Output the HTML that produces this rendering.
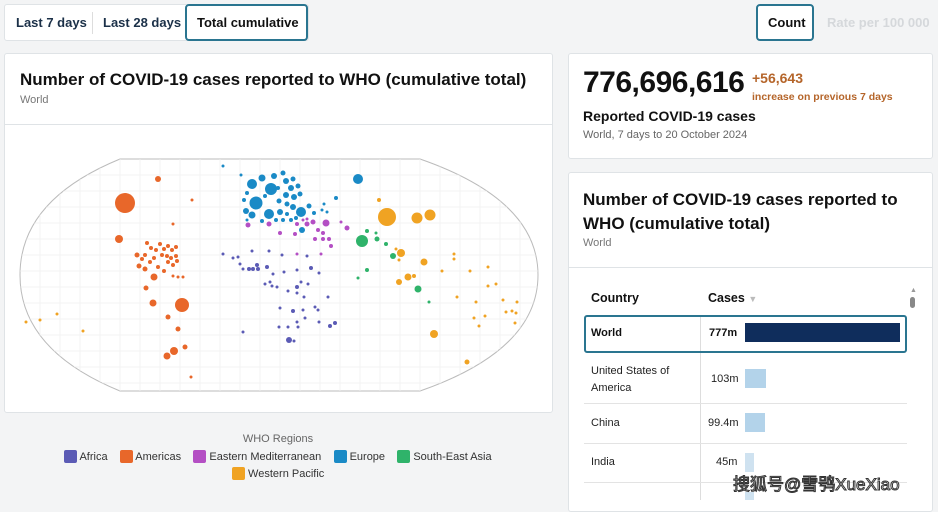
<!DOCTYPE html>
<html><head><meta charset="utf-8"><style>
*{box-sizing:border-box;margin:0;padding:0}
body{width:938px;height:500px;overflow:hidden;background:#f3f4f5;font-family:"Liberation Sans","Noto Sans CJK SC",sans-serif;position:relative;color:#111}
.abs{position:absolute}
.card{position:absolute;background:#fff;border:1px solid #dfe3e6;border-radius:3px}
.btn{position:absolute;font-size:13px;font-weight:bold;color:#1b3048}
</style></head><body>
<div class="card" style="left:4px;top:4px;width:305px;height:37px"></div>
<div class="btn" style="left:16px;top:15px">Last 7 days</div>
<div class="abs" style="left:92px;top:12px;width:1px;height:22px;background:#ddd"></div>
<div class="btn" style="left:103px;top:15px">Last 28 days</div>
<div class="abs" style="left:185px;top:4px;width:123px;height:37px;border:2px solid #2a7590;border-radius:4px;background:#fff"></div>
<div class="btn" style="left:197px;top:15px;color:#111">Total cumulative</div>
<div class="abs" style="left:756px;top:4px;width:58px;height:37px;border:2px solid #2a7590;border-radius:4px;background:#fff"></div>
<div class="btn" style="left:768px;top:15px;color:#111">Count</div>
<div class="btn" style="left:827px;top:15px;color:#d5d8db">Rate per 100 000</div>

<div class="card" style="left:4px;top:53px;width:549px;height:360px"></div>
<div class="abs" style="left:20px;top:70px;font-size:17px;font-weight:bold;white-space:nowrap">Number of COVID-19 cases reported to WHO (cumulative total)</div>
<div class="abs" style="left:20px;top:94px;font-size:11px;color:#777">World</div>
<div class="abs" style="left:5px;top:124px;width:547px;height:1px;background:#dfe3e6"></div>

<svg class="abs" style="left:0;top:0" width="560" height="420">
<defs><clipPath id="c"><path d="M120,159 L420,159 Q538,200 538,275 Q538,350 420,391 L120,391 Q20,350 20,275 Q20,200 120,159Z"/></clipPath></defs>
<path d="M120,159 L420,159 Q538,200 538,275 Q538,350 420,391 L120,391 Q20,350 20,275 Q20,200 120,159Z" fill="#fff" stroke="#bbb"/>
<g clip-path="url(#c)" stroke="#f0f0f0" stroke-width="0.8">
<path d="M20,175H540M20,191H540M20,207H540M20,223H540M20,239H540M20,255H540M20,271H540M20,287H540M20,303H540M20,319H540M20,335H540M20,351H540M20,367H540M20,383H540"/>
<path d="M40,150V400M60,150V400M80,150V400M100,150V400M120,150V400M140,150V400M160,150V400M180,150V400M200,150V400M220,150V400M240,150V400M260,150V400M280,150V400M300,150V400M320,150V400M340,150V400M360,150V400M380,150V400M400,150V400M420,150V400M440,150V400M460,150V400M480,150V400M500,150V400M520,150V400"/>
</g>
<g fill="#e8672a">
<circle cx="125" cy="203" r="10"/><circle cx="158" cy="179" r="3"/><circle cx="192" cy="200" r="1.5"/><circle cx="173" cy="224" r="1.5"/><circle cx="119" cy="239" r="4"/>
<circle cx="147" cy="243" r="2"/><circle cx="151" cy="248" r="2"/><circle cx="156" cy="250" r="2"/><circle cx="160" cy="244" r="2"/><circle cx="164" cy="249" r="2"/><circle cx="168" cy="246" r="2"/><circle cx="172" cy="250" r="2"/><circle cx="176" cy="247" r="2"/><circle cx="162" cy="255" r="2"/><circle cx="167" cy="256" r="2"/><circle cx="171" cy="258" r="2"/><circle cx="176" cy="256" r="2"/><circle cx="168" cy="262" r="2"/><circle cx="173" cy="265" r="2"/><circle cx="177" cy="261" r="2"/><circle cx="154" cy="258" r="2"/><circle cx="145" cy="255" r="2"/><circle cx="150" cy="262" r="2"/><circle cx="137" cy="255" r="2.5"/><circle cx="142" cy="259" r="2"/><circle cx="139" cy="266" r="2.5"/><circle cx="145" cy="269" r="2.5"/><circle cx="164" cy="271" r="2"/><circle cx="158" cy="267" r="2"/>
<circle cx="154" cy="277" r="3.5"/><circle cx="146" cy="288" r="2.5"/><circle cx="153" cy="303" r="3.5"/><circle cx="182" cy="305" r="7"/><circle cx="168" cy="317" r="2.5"/><circle cx="178" cy="329" r="2.5"/><circle cx="174" cy="351" r="4"/><circle cx="167" cy="356" r="3.5"/><circle cx="185" cy="347" r="2.5"/><circle cx="191" cy="377" r="1.5"/><circle cx="173" cy="276" r="1.5"/><circle cx="178" cy="277" r="1.5"/><circle cx="183" cy="277" r="1.5"/>
</g>
<g fill="#1a8ac6">
<circle cx="256" cy="203" r="6.5"/><circle cx="271" cy="189" r="6"/><circle cx="252" cy="184" r="5"/><circle cx="269" cy="214" r="5"/><circle cx="301" cy="212" r="5"/><circle cx="358" cy="179" r="5"/><circle cx="302" cy="230" r="3"/><circle cx="223" cy="166" r="1.5"/><circle cx="241" cy="175" r="1.5"/><circle cx="336" cy="198" r="2"/>
<circle cx="246" cy="211" r="3"/><circle cx="252" cy="215" r="3.5"/><circle cx="262" cy="178" r="3.5"/><circle cx="274" cy="176" r="3"/><circle cx="283" cy="173" r="2.5"/><circle cx="286" cy="181" r="3"/><circle cx="293" cy="179" r="2.5"/><circle cx="291" cy="188" r="3"/><circle cx="298" cy="186" r="2.5"/><circle cx="286" cy="195" r="3"/><circle cx="294" cy="197" r="3"/><circle cx="300" cy="194" r="2.5"/><circle cx="279" cy="201" r="2.5"/><circle cx="287" cy="204" r="2.5"/><circle cx="293" cy="207" r="3"/><circle cx="280" cy="212" r="3"/><circle cx="287" cy="214" r="2"/><circle cx="283" cy="220" r="2"/><circle cx="291" cy="220" r="2"/><circle cx="296" cy="218" r="2"/><circle cx="247" cy="193" r="2"/><circle cx="244" cy="200" r="2"/><circle cx="265" cy="196" r="2"/><circle cx="278" cy="188" r="2"/><circle cx="276" cy="220" r="2"/><circle cx="262" cy="221" r="2"/><circle cx="309" cy="206" r="2.5"/><circle cx="314" cy="213" r="2"/><circle cx="322" cy="210" r="1.5"/><circle cx="324" cy="204" r="1.5"/><circle cx="327" cy="212" r="1.5"/><circle cx="247" cy="220" r="1.5"/>
</g>
<g fill="#b44fc4">
<circle cx="248" cy="225" r="2.5"/><circle cx="269" cy="224" r="2.5"/><circle cx="280" cy="233" r="2"/><circle cx="295" cy="234" r="2"/><circle cx="297" cy="224" r="2"/><circle cx="307" cy="224" r="2.5"/><circle cx="313" cy="222" r="2.5"/><circle cx="326" cy="223" r="3.5"/><circle cx="347" cy="228" r="2.5"/><circle cx="341" cy="222" r="1.5"/><circle cx="318" cy="230" r="2"/><circle cx="323" cy="233" r="2"/><circle cx="315" cy="239" r="2"/><circle cx="323" cy="239" r="2"/><circle cx="329" cy="239" r="2"/><circle cx="331" cy="246" r="2"/><circle cx="303" cy="220" r="1.5"/><circle cx="307" cy="219" r="1.5"/><circle cx="297" cy="254" r="1.5"/><circle cx="321" cy="254" r="1.5"/>
</g>
<g fill="#5b5bb5">
<circle cx="223" cy="254" r="1.5"/><circle cx="233" cy="258" r="1.5"/><circle cx="238" cy="257" r="1.5"/><circle cx="240" cy="264" r="1.5"/><circle cx="243" cy="269" r="1.5"/><circle cx="249" cy="269" r="2"/><circle cx="253" cy="269" r="2"/><circle cx="258" cy="269" r="2"/><circle cx="257" cy="265" r="2"/><circle cx="267" cy="267" r="2"/><circle cx="252" cy="251" r="1.5"/><circle cx="269" cy="251" r="1.5"/><circle cx="282" cy="255" r="1.5"/><circle cx="307" cy="256" r="1.5"/><circle cx="311" cy="268" r="2"/><circle cx="319" cy="273" r="1.5"/><circle cx="297" cy="270" r="1.5"/><circle cx="284" cy="272" r="1.5"/><circle cx="273" cy="274" r="1.5"/><circle cx="265" cy="284" r="1.5"/><circle cx="270" cy="282" r="1.5"/><circle cx="272" cy="286" r="1.5"/><circle cx="277" cy="287" r="1.5"/><circle cx="288" cy="291" r="1.5"/><circle cx="297" cy="287" r="2"/><circle cx="297" cy="293" r="1.5"/><circle cx="301" cy="282" r="1.5"/><circle cx="308" cy="284" r="1.5"/><circle cx="304" cy="297" r="1.5"/><circle cx="328" cy="297" r="1.5"/><circle cx="280" cy="308" r="1.5"/><circle cx="293" cy="311" r="2"/><circle cx="303" cy="310" r="1.5"/><circle cx="305" cy="318" r="1.5"/><circle cx="297" cy="322" r="1.5"/><circle cx="315" cy="307" r="1.5"/><circle cx="318" cy="310" r="1.5"/><circle cx="319" cy="322" r="1.5"/><circle cx="330" cy="326" r="2"/><circle cx="335" cy="323" r="2"/><circle cx="279" cy="327" r="1.5"/><circle cx="288" cy="327" r="1.5"/><circle cx="298" cy="327" r="1.5"/><circle cx="289" cy="340" r="3"/><circle cx="294" cy="341" r="1.5"/><circle cx="243" cy="332" r="1.5"/>
</g>
<g fill="#2fb36a">
<circle cx="362" cy="241" r="6"/><circle cx="367" cy="231" r="2"/><circle cx="376" cy="233" r="1.5"/><circle cx="377" cy="239" r="2.5"/><circle cx="386" cy="244" r="2"/><circle cx="393" cy="256" r="3"/><circle cx="367" cy="270" r="2"/><circle cx="358" cy="278" r="1.5"/><circle cx="418" cy="289" r="3.5"/><circle cx="429" cy="302" r="1.5"/>
</g>
<g fill="#f0a323">
<circle cx="387" cy="217" r="9"/><circle cx="417" cy="218" r="5.5"/><circle cx="430" cy="215" r="5.5"/><circle cx="379" cy="200" r="2"/><circle cx="401" cy="253" r="4"/><circle cx="396" cy="249" r="1.5"/><circle cx="399" cy="260" r="1.5"/><circle cx="424" cy="262" r="3.5"/><circle cx="408" cy="277" r="3.5"/><circle cx="399" cy="282" r="3"/><circle cx="414" cy="276" r="2"/><circle cx="434" cy="334" r="4"/><circle cx="467" cy="362" r="2.5"/>
<circle cx="454" cy="254" r="1.5"/><circle cx="454" cy="259" r="1.5"/><circle cx="442" cy="271" r="1.5"/><circle cx="470" cy="271" r="1.5"/><circle cx="488" cy="267" r="1.5"/><circle cx="488" cy="286" r="1.5"/><circle cx="496" cy="284" r="1.5"/><circle cx="457" cy="297" r="1.5"/><circle cx="476" cy="302" r="1.5"/><circle cx="503" cy="300" r="1.5"/><circle cx="485" cy="316" r="1.5"/><circle cx="474" cy="318" r="1.5"/><circle cx="479" cy="326" r="1.5"/><circle cx="506" cy="312" r="1.5"/><circle cx="512" cy="311" r="1.5"/><circle cx="516" cy="313" r="1.5"/><circle cx="515" cy="323" r="1.5"/><circle cx="517" cy="302" r="1.5"/>
<circle cx="26" cy="322" r="1.5"/><circle cx="40" cy="320" r="1.5"/><circle cx="57" cy="314" r="1.5"/><circle cx="83" cy="331" r="1.5"/>
</g>
</svg>

<div class="abs" style="left:0;top:433px;width:556px;text-align:center;font-size:11px;color:#666">WHO Regions</div>
<div class="abs" style="left:64px;top:450px;font-size:11px;color:#333;white-space:nowrap;line-height:14px">
<span style="display:inline-block;width:13px;height:13px;background:#5b5bb5;border-radius:2px;vertical-align:-3px"></span> Africa&nbsp;&nbsp;&nbsp;
<span style="display:inline-block;width:13px;height:13px;background:#e8672a;border-radius:2px;vertical-align:-3px"></span> Americas&nbsp;&nbsp;&nbsp;
<span style="display:inline-block;width:13px;height:13px;background:#b44fc4;border-radius:2px;vertical-align:-3px"></span> Eastern Mediterranean&nbsp;&nbsp;&nbsp;
<span style="display:inline-block;width:13px;height:13px;background:#1a8ac6;border-radius:2px;vertical-align:-3px"></span> Europe&nbsp;&nbsp;&nbsp;
<span style="display:inline-block;width:13px;height:13px;background:#2fb36a;border-radius:2px;vertical-align:-3px"></span> South-East Asia</div>
<div class="abs" style="left:232px;top:467px;font-size:11px;color:#333;line-height:14px"><span style="display:inline-block;width:13px;height:13px;background:#f0a323;border-radius:2px;vertical-align:-3px"></span> Western Pacific</div>

<div class="card" style="left:568px;top:53px;width:365px;height:106px"></div>
<div class="abs" style="left:583px;top:66px;font-size:30px;font-weight:bold;letter-spacing:-0.5px">776,696,616</div>
<div class="abs" style="left:752px;top:70px;font-size:14px;font-weight:bold;color:#b5652a">+56,643</div>
<div class="abs" style="left:752px;top:91px;font-size:10.5px;font-weight:bold;color:#b5652a">increase on previous 7 days</div>
<div class="abs" style="left:583px;top:108px;font-size:14px;font-weight:bold">Reported COVID-19 cases</div>
<div class="abs" style="left:583px;top:129px;font-size:11px;color:#666">World, 7 days to 20 October 2024</div>

<div class="card" style="left:568px;top:172px;width:365px;height:340px"></div>
<div class="abs" style="left:583px;top:188px;font-size:17px;font-weight:bold;line-height:24px;width:340px">Number of COVID-19 cases reported to WHO (cumulative total)</div>
<div class="abs" style="left:583px;top:237px;font-size:11px;color:#777">World</div>
<div class="abs" style="left:569px;top:267px;width:363px;height:1px;background:#dfe3e6"></div>
<div class="abs" style="left:591px;top:291px;font-size:12.5px;font-weight:bold">Country</div>
<div class="abs" style="left:708px;top:291px;font-size:12.5px;font-weight:bold">Cases <span style="color:#bbb;font-size:9px">▼</span></div>
<div class="abs" style="left:910px;top:287px;width:6px;height:26px"><div style="color:#999;font-size:7px;line-height:8px">▲</div><div style="width:5px;height:11px;background:#888;border-radius:3px;margin-top:2px"></div></div>
<div class="abs" style="left:700px;top:315px;width:1px;height:185px;background:#ddd"></div>
<div class="abs" style="left:584px;top:315px;width:323px;height:38px;border:2px solid #2a7590;border-radius:3px;background:#fff"></div>
<div class="abs" style="left:700px;top:317px;width:1px;height:34px;background:#ddd"></div>
<div class="abs" style="left:591px;top:327px;font-size:11px;font-weight:bold">World</div>
<div class="abs" style="left:709px;top:327px;font-size:11px;font-weight:bold">777m</div>
<div class="abs" style="left:745px;top:323px;width:155px;height:19px;background:#0f2d5c"></div>
<div class="abs" style="left:591px;top:363px;font-size:11px;line-height:17px;color:#222">United States of<br>America</div>
<div class="abs" style="left:711px;top:373px;font-size:11px;color:#222">103m</div>
<div class="abs" style="left:745px;top:369px;width:21px;height:19px;background:#b3d3ea"></div>
<div class="abs" style="left:584px;top:403px;width:323px;height:1px;background:#e3e3e3"></div>
<div class="abs" style="left:591px;top:417px;font-size:11px;color:#222">China</div>
<div class="abs" style="left:708px;top:417px;font-size:11px;color:#222">99.4m</div>
<div class="abs" style="left:745px;top:413px;width:20px;height:19px;background:#b3d3ea"></div>
<div class="abs" style="left:584px;top:443px;width:323px;height:1px;background:#e3e3e3"></div>
<div class="abs" style="left:591px;top:456px;font-size:11px;color:#222">India</div>
<div class="abs" style="left:716px;top:456px;font-size:11px;color:#222">45m</div>
<div class="abs" style="left:745px;top:453px;width:9px;height:19px;background:#cfe2f0"></div>
<div class="abs" style="left:584px;top:482px;width:323px;height:1px;background:#e3e3e3"></div>
<div class="abs" style="left:745px;top:492px;width:9px;height:8px;background:#cfe2f0"></div>
<div class="abs" style="left:733px;top:470px;font-size:17px;color:#fff;-webkit-text-stroke:1px #333;font-family:'Liberation Sans','WenQuanYi Zen Hei',sans-serif">搜狐号@雪鸮XueXiao</div>
</body></html>
